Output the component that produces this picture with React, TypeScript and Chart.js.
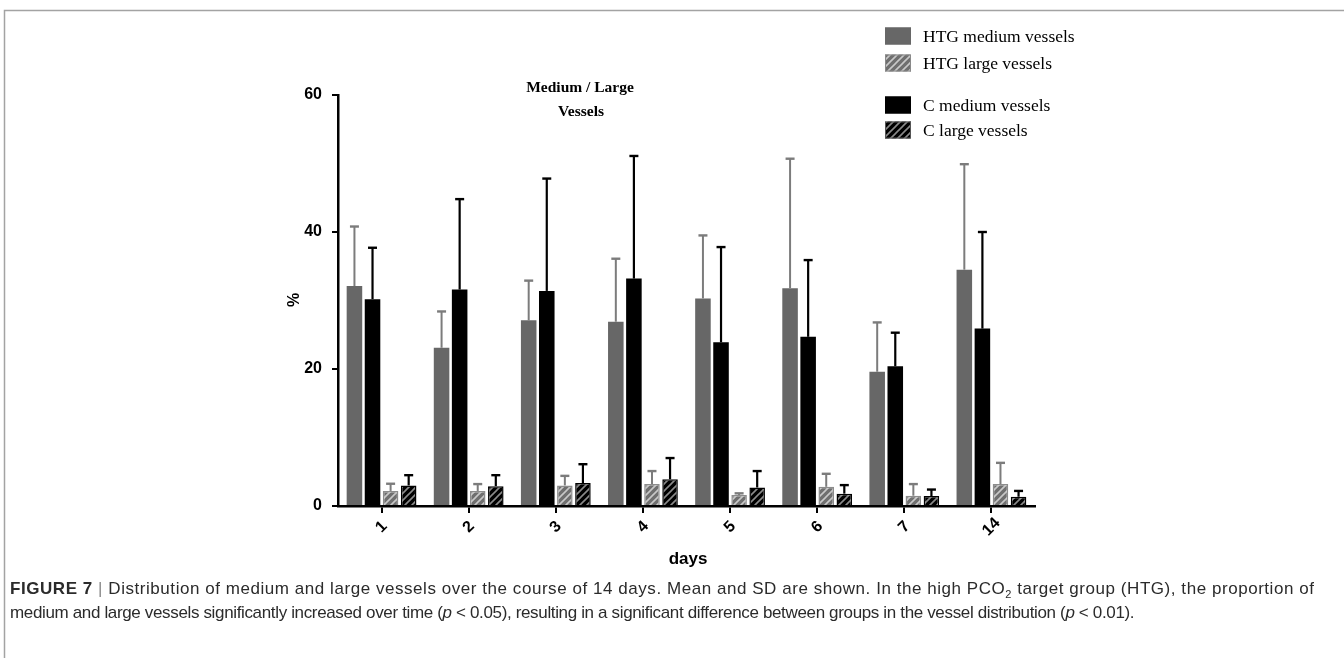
import React, { useEffect, useRef } from "react";
import { Chart, registerables } from "chart.js";

Chart.register(...registerables);

const days = ["1", "2", "3", "4", "5", "6", "7", "14"];
const htgMedium = [32.1, 23.1, 27.1, 26.9, 30.3, 31.8, 19.6, 34.5];
const htgMediumSD = [8.7, 5.3, 5.8, 9.2, 9.2, 18.9, 7.2, 15.4];
const cMedium = [30.2, 31.6, 31.4, 33.2, 23.9, 24.7, 20.4, 25.9];
const cMediumSD = [7.5, 13.2, 16.4, 17.9, 13.9, 11.2, 4.9, 14.1];
const htgLarge = [2.2, 2.2, 3.0, 3.2, 1.6, 2.8, 1.5, 3.2];
const htgLargeSD = [1.05, 1.0, 1.4, 1.9, 0.25, 1.9, 1.7, 3.1];
const cLarge = [3.0, 2.9, 3.35, 3.9, 2.7, 1.8, 1.45, 1.35];
const cLargeSD = [1.5, 1.6, 2.75, 3.1, 2.4, 1.25, 0.95, 0.85];

const titleLines = ["Medium / Large", "Vessels"];
const legendLabels = ["HTG medium vessels", "HTG large vessels", "C medium vessels", "C large vessels"];

const GREY = "#676767";
const ERR_GREY = "#7c7c7c";

function makePattern(base: string, stripe: string): CanvasPattern | string {
  const c = document.createElement("canvas");
  c.width = 7;
  c.height = 7;
  const g = c.getContext("2d");
  if (!g) return base;
  g.fillStyle = base;
  g.fillRect(0, 0, 7, 7);
  g.strokeStyle = stripe;
  g.lineWidth = 1.6;
  g.beginPath();
  g.moveTo(-1, 8);
  g.lineTo(8, -1);
  g.moveTo(-4, 4);
  g.lineTo(4, -4);
  g.moveTo(3, 11);
  g.lineTo(11, 3);
  g.stroke();
  const p = g.createPattern(c, "repeat");
  return p || base;
}

export default function App() {
  const ref = useRef<HTMLCanvasElement>(null);

  useEffect(() => {
    const canvas = ref.current;
    if (!canvas) return;
    const htgPat = makePattern("#6f6f6f", "#c8c8c8");
    const cPat = makePattern("#000000", "#8a8a8a");
    const sds = [htgMediumSD, cMediumSD, htgLargeSD, cLargeSD];
    const errColors = [ERR_GREY, "#000", ERR_GREY, "#000"];
    const errWidths = [2, 2.2, 2, 2.2];

    const overlay = {
      id: "overlay",
      afterDatasetsDraw(chart: any) {
        const ctx = chart.ctx;
        const y = chart.scales.y;
        ctx.save();
        chart.data.datasets.forEach((ds: any, di: number) => {
          const meta = chart.getDatasetMeta(di);
          meta.data.forEach((bar: any, i: number) => {
            const v = ds.data[i] as number;
            const top = y.getPixelForValue(v + sds[di][i]);
            const by = y.getPixelForValue(v);
            ctx.strokeStyle = errColors[di];
            ctx.lineWidth = errWidths[di];
            ctx.beginPath();
            ctx.moveTo(bar.x, by);
            ctx.lineTo(bar.x, top);
            ctx.stroke();
            ctx.lineWidth = 2.4;
            ctx.beginPath();
            ctx.moveTo(bar.x - 4.5, top);
            ctx.lineTo(bar.x + 4.5, top);
            ctx.stroke();
          });
        });
        ctx.restore();
      },
      afterDraw(chart: any) {
        const ctx = chart.ctx;
        const xs = chart.scales.x;
        const area = chart.chartArea;
        ctx.save();
        // frame
        ctx.strokeStyle = "#a3a3a3";
        ctx.lineWidth = 1.5;
        ctx.beginPath();
        ctx.moveTo(1344, 10.5);
        ctx.lineTo(4.5, 10.5);
        ctx.lineTo(4.5, 658);
        ctx.stroke();

        // x labels rotated
        ctx.fillStyle = "#000";
        ctx.font = "bold 16px 'Liberation Sans', Arial, sans-serif";
        ctx.textAlign = "center";
        ctx.textBaseline = "middle";
        days.forEach((d, i) => {
          const px = xs.getPixelForValue(i);
          ctx.save();
          ctx.translate(px, area.bottom + 21);
          ctx.rotate(-Math.PI / 4);
          ctx.fillText(d, 0, 0);
          ctx.restore();
        });
        // x title
        ctx.font = "bold 17px 'Liberation Sans', Arial, sans-serif";
        ctx.fillText("days", 688, 559);
        // y title
        ctx.save();
        ctx.translate(295, 300);
        ctx.rotate(-Math.PI / 2);
        ctx.font = "bold 16px 'Liberation Sans', Arial, sans-serif";
        ctx.fillText("%", 0, 0);
        ctx.restore();
        // chart title
        ctx.font = "bold 15.5px 'Liberation Serif', 'Times New Roman', serif";
        ctx.fillText(titleLines[0], 580, 88);
        ctx.fillText(titleLines[1], 581, 112);

        // legend
        const rows = [36, 63, 105, 130];
        const fills = [GREY, htgPat, "#000", cPat];
        const borders = [GREY, "#8a8a8a", "#000", "#555"];
        ctx.textAlign = "left";
        ctx.font = "17.5px 'Liberation Serif', 'Times New Roman', serif";
        rows.forEach((ry, i) => {
          ctx.fillStyle = fills[i] as any;
          ctx.fillRect(885, ry - 8.5, 26, 17);
          ctx.strokeStyle = borders[i];
          ctx.lineWidth = 1;
          ctx.strokeRect(885.5, ry - 8, 25, 16);
          ctx.fillStyle = "#000";
          ctx.fillText(legendLabels[i], 923, ry + 1);
        });
        ctx.restore();
      },
    };

    const chart = new Chart(canvas, {
      type: "bar",
      data: {
        labels: days,
        datasets: [
          { label: legendLabels[0], data: htgMedium, backgroundColor: GREY, borderWidth: 0 },
          { label: legendLabels[2], data: cMedium, backgroundColor: "#000", borderWidth: 0 },
          { label: legendLabels[1], data: htgLarge, backgroundColor: htgPat as any, borderColor: "#8c8c8c", borderWidth: 1.5 },
          { label: legendLabels[3], data: cLarge, backgroundColor: cPat as any, borderColor: "#000", borderWidth: 1.5 },
        ],
      },
      options: {
        responsive: false,
        animation: false,
        devicePixelRatio: 1,
        categoryPercentage: 0.83,
        barPercentage: 0.86,
        layout: { padding: { left: 0, right: 309, top: 95, bottom: 132 } },
        plugins: { legend: { display: false }, tooltip: { enabled: false }, title: { display: false } },
        scales: {
          x: {
            offset: true,
            grid: { display: true, drawOnChartArea: false, drawTicks: true, tickLength: 7, color: "#000", lineWidth: 2, offset: false },
            border: { display: true, color: "#000", width: 2.5 },
            ticks: { display: false },
            afterFit: (s: any) => { s.height = 20; },
          },
          y: {
            min: 0,
            max: 60,
            ticks: { stepSize: 20, color: "#000", padding: 10, font: { family: "'Liberation Sans', Arial, sans-serif", size: 16, weight: "bold" } },
            grid: { display: true, drawOnChartArea: false, drawTicks: true, tickLength: 6, color: "#000", lineWidth: 2 },
            border: { display: true, color: "#000", width: 2.5 },
            afterFit: (s: any) => { s.width = 338; },
          },
        },
      } as any,
      plugins: [overlay],
    });
    return () => chart.destroy();
  }, []);

  return (
    <div style={{ position: "fixed", left: 0, top: 0, width: 1344, height: 658, background: "#fff", overflow: "hidden" }}>
      <canvas ref={ref} width={1344} height={658} style={{ display: "block", width: 1344, height: 658 }} />
      <div
        style={{
          position: "absolute",
          left: 10,
          top: 577,
          font: "17px 'Liberation Sans', Arial, sans-serif",
          color: "#2b2b2b",
          lineHeight: "24px",
          whiteSpace: "nowrap",
        }}
      >
        <div style={{ letterSpacing: "0.55px" }}>
          <b>FIGURE 7</b> <span style={{ color: "#888" }}>|</span> Distribution of medium and large vessels over the course of 14 days. Mean and SD are shown. In the high PCO<sub style={{ fontSize: "11px", lineHeight: 0 }}>2</sub> target group (HTG), the proportion of
        </div>
        <div style={{ letterSpacing: "-0.35px" }}>
          medium and large vessels significantly increased over time (<i>p</i> &lt; 0.05), resulting in a significant difference between groups in the vessel distribution (<i>p</i> &lt; 0.01).
        </div>
      </div>
    </div>
  );
}
